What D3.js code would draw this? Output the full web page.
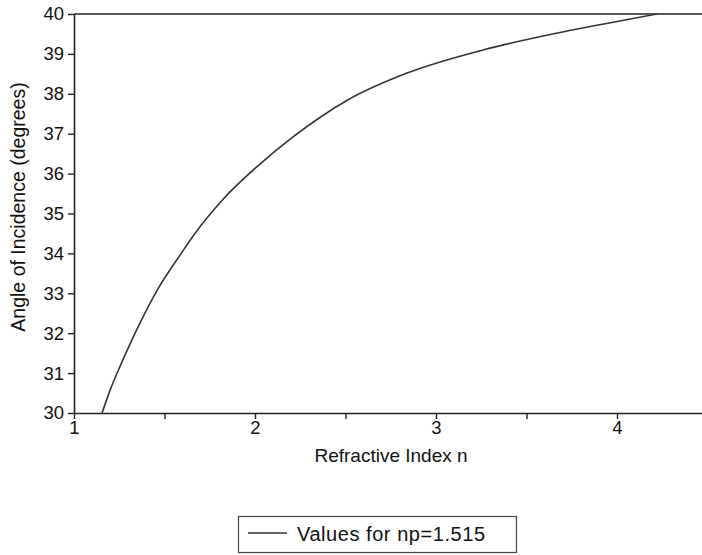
<!DOCTYPE html>
<html>
<head>
<meta charset="utf-8">
<script src="https://cdn.jsdelivr.net/npm/d3@7"></script>
<style>
  html, body { margin: 0; padding: 0; background: #fff; }
  svg { display: block; font-family: "Liberation Sans", Arial, Helvetica, sans-serif; }
</style>
</head>
<body>
<svg id="chart" width="702" height="555"></svg>
<script>
// Data
const refractiveIndex = [1.155, 1.20, 1.27, 1.365, 1.46, 1.60, 1.66, 1.82, 2.01, 2.21, 2.51, 2.84, 3.26, 3.70, 3.95, 4.22];
const angleDeg        = [30.0, 30.58, 31.33, 32.26, 33.08, 34.05, 34.45, 35.34, 36.17, 36.92, 37.84, 38.52, 39.10, 39.55, 39.77, 40.0];
const xTickValues = [1, 1.5, 2, 2.5, 3, 3.5, 4, 4.5];
const xTickLabels = ["1", "", "2", "", "3", "", "4", ""];
const yTickValues = [30, 31, 32, 33, 34, 35, 36, 37, 38, 39, 40];
const xDomain = [1, 4.5];
const yDomain = [30, 40];
const xTitle = "Refractive Index n";
const yTitle = "Angle of Incidence (degrees)";
const legendLabel = "Values for np=1.515";

const svg = d3.select("#chart");
const x = d3.scaleLinear().domain(xDomain).range([74, 707.5]);
const y = d3.scaleLinear().domain(yDomain).range([413, 14]);

const ink = "#222";

// Top frame line at y = 40
svg.append("line")
  .attr("x1", x(1)).attr("x2", 702)
  .attr("y1", y(40)).attr("y2", y(40))
  .attr("stroke", ink).attr("stroke-width", 1.6);

// X axis
const xAxis = d3.axisBottom(x)
  .tickValues(xTickValues)
  .tickSize(6)
  .tickSizeOuter(0)
  .tickPadding(2)
  .tickFormat((d, i) => xTickLabels[i]);
const gx = svg.append("g").attr("transform", `translate(0,${y(30)})`).call(xAxis);
gx.select(".domain").attr("stroke", ink).attr("stroke-width", 1.6);
gx.selectAll(".tick line").attr("stroke", ink).attr("stroke-width", 1.4);
gx.selectAll(".tick text").attr("fill", "#111").attr("font-size", "18.5px")
  .attr("font-family", "'Liberation Sans', Arial, sans-serif");

// Y axis
const yAxis = d3.axisLeft(y)
  .tickValues(yTickValues)
  .tickSize(6)
  .tickSizeOuter(0)
  .tickPadding(4)
  .tickFormat(d3.format("d"));
const gy = svg.append("g").attr("transform", `translate(${x(1)},0)`).call(yAxis);
gy.select(".domain").attr("stroke", ink).attr("stroke-width", 1.6);
gy.selectAll(".tick line").attr("stroke", ink).attr("stroke-width", 1.4);
gy.selectAll(".tick text").attr("fill", "#111").attr("font-size", "18.5px")
  .attr("font-family", "'Liberation Sans', Arial, sans-serif");

// Curve
const pts = refractiveIndex.map((n, i) => [n, angleDeg[i]]);
const line = d3.line()
  .x(d => x(d[0]))
  .y(d => y(d[1]))
  .curve(d3.curveMonotoneX);
svg.append("path")
  .datum(pts)
  .attr("d", line)
  .attr("fill", "none")
  .attr("stroke", "#333")
  .attr("stroke-width", 1.6);

// Axis titles
svg.append("text")
  .attr("x", 391).attr("y", 462)
  .attr("text-anchor", "middle")
  .attr("font-size", "19px")
  .attr("fill", "#111")
  .text(xTitle);

svg.append("text")
  .attr("transform", "translate(25,207) rotate(-90)")
  .attr("text-anchor", "middle")
  .attr("font-size", "19.5px")
  .attr("fill", "#111")
  .text(yTitle);

// Legend
const lg = svg.append("g");
lg.append("rect")
  .attr("x", 238.5).attr("y", 516.5)
  .attr("width", 278).attr("height", 36)
  .attr("fill", "#fff")
  .attr("stroke", "#444").attr("stroke-width", 1.2);
lg.append("line")
  .attr("x1", 248).attr("x2", 287)
  .attr("y1", 533).attr("y2", 533)
  .attr("stroke", "#333").attr("stroke-width", 1.4);
lg.append("text")
  .attr("x", 297).attr("y", 541)
  .attr("font-size", "20px")
  .attr("textLength", 188)
  .attr("lengthAdjust", "spacing")
  .attr("fill", "#111")
  .text(legendLabel);
</script>
</body>
</html>
